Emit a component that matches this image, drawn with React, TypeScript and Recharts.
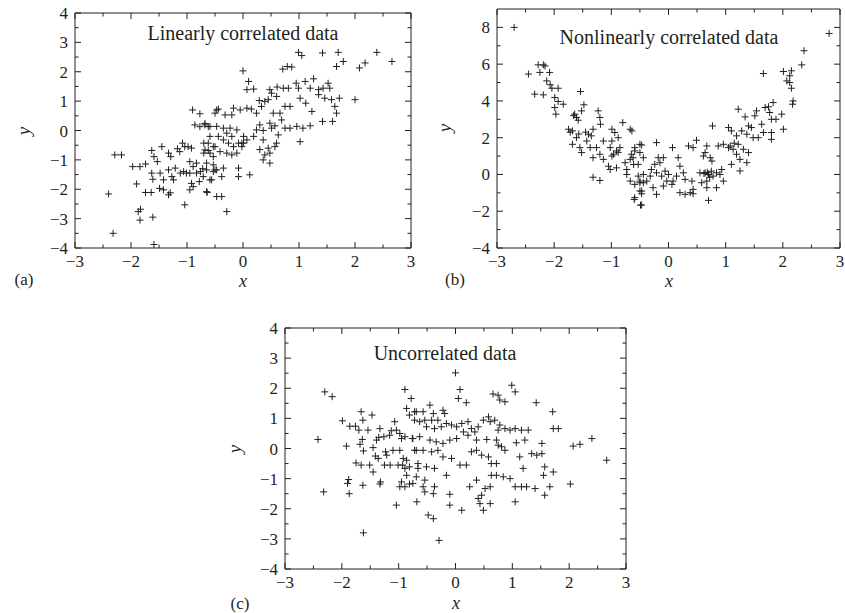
import { ScatterChart, Scatter, XAxis, YAxis, ReferenceArea } from "recharts";

// (a) linearly correlated
const linearX = [
  -2.29, -2.17, -2.4, -2.32, -1.59, -1.97, -1.84, -1.74, -1.9, -1.74, -1.64, -1.87, -1.83, -1.84, -1.61,
  -1.63, -1.45, -1.59, -1.53, -1.63, -1.61, -1.48, -1.42, -1.33, -1.27, -1.24, -1.49, -1.42, -1.33, -1.3,
  -1.33, -1.29, -1.21, -1.13, -1.08, -1.04, -0.98, -0.92, -1.04, -1.01, -0.95, -0.95, -0.92, -0.89, -0.83,
  -0.83, -0.95, -0.89, -0.78, -0.71, -0.64, -0.9, -0.77, -0.47, -0.86, -0.77, -0.68, -0.62, -0.7, -0.59,
  -0.7, -0.62, -0.53, -0.65, -0.53, -0.59, -0.47, -1.12, -1.06, -0.76, -0.72, -1.17,
  0.99, 1.05, 1.42, 1.7, 2.39, 2.66, 1.67, 1.79, 2.08, 2.18, 0.71, 0.79, 0.87, 0.0, 0.1, 0.07, 0.19,
  0.48, 0.61, 0.72, 0.81, 0.95, 0.99, 1.11, 1.26, 1.2, 1.35, 1.43, 1.52, 1.55,
  0.51, 0.6, 0.75, 0.84, 1.02, 1.12, 1.23, 1.35, 1.46, 1.58, 1.72, 2.0, 1.67, 1.64,
  1.6, 1.42, 1.2, 1.07, 0.96, 1.02, 0.84, 0.75,
  0.29, 0.39, 0.45, 0.33, 0.24, 0.15, 0.07, -0.05, -0.17, -0.2, -0.44, -0.32, -0.5,
  0.54, 0.66, 0.48, 0.57, 0.69, 0.3, 0.24, 0.36, 0.51, 0.63, 0.6, 0.57, 0.45, 0.48, 0.39, 0.36, 0.48, 0.3, 0.36,
  0.19, 0.07, -0.02, 0.01, -0.11, -0.23, -0.35, -0.47, -0.59, -0.68,
  -0.29, -0.2, -0.35, -0.44, -0.26, -0.17, -0.11, -0.2, -0.29, -0.41, -0.5, -0.62, -0.68, -0.53, -0.59,
  -0.08, -0.02, 0.01,
  -0.53, -0.5, -0.65, -0.35, -0.56, -0.38, -0.08, -0.08, 0.12, -0.65, -0.47, -0.38, -0.29,
];
const linearY = [
  -0.83, -0.83, -2.16, -3.5, -3.88, -1.23, -1.23, -1.14, -1.82, -2.11, -2.11, -2.76, -2.68, -3.05, -2.95,
  -0.68, -0.55, -0.89, -1.06, -1.45, -1.66, -1.45, -1.68, -1.34, -1.57, -1.68, -1.97, -2.02, -2.19, -2.12,
  -0.77, -0.89, -1.28, -0.72, -0.43, -0.55, -0.55, -0.6, -2.53, -1.45, -1.06, -1.45, -1.8, -1.23, -1.11,
  -1.45, -2.02, -1.91, -1.74, -1.57, -2.11, 0.7, 0.57, 0.7, 0.19, 0.13, 0.24, 0.13, -0.43, -0.2,
  -0.77, -0.68, -0.55, -1.11, -1.4, -1.68, -1.34, -1.45, -1.4, -1.4, -1.3, -0.62,
  2.66, 2.55, 2.64, 2.66, 2.66, 2.35, 2.18, 2.35, 2.13, 2.3, 2.09, 2.18, 2.16, 2.03, 1.67, 1.39, 1.41,
  1.39, 1.48, 1.44, 1.44, 1.61, 1.44, 1.67, 1.76, 1.44, 1.39, 1.44, 1.61, 1.44,
  1.27, 1.16, 0.82, 0.82, 1.1, 0.93, 0.65, 1.22, 1.1, 1.05, 1.1, 1.05, 0.59, 0.82,
  0.31, 0.31, 0.16, 0.08, 0.14, -0.38, 0.08, 0.08,
  1.02, 0.99, 1.05, 0.82, 0.59, 0.73, 0.76, 0.7, 0.76, 0.53, 0.73, 0.53, 0.59,
  0.59, 0.59, 0.25, 0.16, 0.36, 0.19, 0.02, 0.0, 0.08, -0.15, -0.43, -0.55, -0.6, -0.77, -0.83, -1.0, -1.11, -0.65, -0.32,
  -0.2, -0.32, -0.43, -0.2, 0.02, 0.08, 0.08, 0.14, 0.14, 0.19,
  -0.09, -0.2, -0.32, -0.2, -0.43, -0.55, -0.77, -0.83, -0.77, -0.72, -0.55, -0.43, -0.66, -0.89, -0.77,
  -0.43, -0.55, -0.43,
  -1.17, -1.34, -1.34, -1.28, -1.68, -1.57, -1.28, -1.57, -1.51, -2.08, -2.25, -2.25, -2.76,
];

// (b) nonlinearly correlated
const nonlinX = [
  -2.7, -2.45, -2.28, -2.19, -2.16, -2.25, -2.08, -2.13, -2.07, -2.04, -1.93,
  -2.34, -2.19, -1.99, -1.93, -1.99, -1.84, -1.97, -1.54, -1.48, -1.52, -1.64, -1.61, -1.58,
  -1.23, -1.2, -1.19, -0.8, -0.67, -0.5,
  -1.75, -1.68, -1.61, -1.68, -1.55, -1.43, -1.4, -1.32, -1.37, -1.26, -1.14,
  -1.52, -1.32, -1.2, -1.14, -1.02, -0.99, -0.99, -0.94, -0.88, -0.99, -0.91, -0.85,
  -1.05, -1.02, -0.91, -0.76, -0.73, -0.67, -0.65, -0.59, -0.61,
  -0.73, -0.67, -0.59, -0.5, -0.44, -0.53, -1.32, -1.2, -0.6, -0.49, -0.5, -0.47,
  -1.72, -1.45, -1.35, -1.57, -1.66, -0.96, -0.88,
  2.81, 2.37, 2.33, 2.01, 2.15, 1.66, 2.12, 2.07, 2.15, 2.12, 2.18, 2.17,
  1.69, 1.75, 1.83, 1.77, 1.88, 1.8, 2.01, 1.98,
  1.22, 1.34, 1.51, 1.54, 1.45, 1.63, 1.66, 1.8, 1.8,
  0.77, 1.05, 1.1, 1.19, 1.28, 1.37, 1.4, 1.48, 1.57,
  0.96, 0.87, 1.05, 1.13, 1.22, 1.31, 1.4, 1.19, 1.25, 1.1, 1.25, 1.37,
  0.49, 0.67, 0.64, 0.73, 0.76, 0.61, 0.35, 0.07, 0.43,
  -0.21, -0.47, -0.59, -0.5, -0.44, -0.53, -0.64, -0.62,
  -0.18, -0.09, -0.15, -0.24, -0.3, -0.21, -0.06, 0.0, -0.12, -0.03, -0.09,
  0.17, 0.2, 0.26, 0.29, 0.14, 0.08, 0.06,
  0.41, 0.43, 0.38, 0.43, 0.2, 0.29, 0.7,
  0.55, 0.64, 0.7, 0.75, 0.84, 0.9, 0.93, 0.96, 0.78, 0.67, 0.84, 0.67, 0.58,
  -0.44, -0.32, -0.5, -0.38, -0.27, -0.47, -0.59, -0.47, -0.21,
  0.62, 0.68, 0.72, 1.08, 1.15,
];
const nonlinY = [
  8.0, 5.46, 5.96, 5.96, 5.9, 5.55, 5.55, 5.09, 4.88, 4.69, 4.69,
  4.37, 4.33, 4.19, 3.97, 3.64, 3.82, 3.28, 4.51, 3.79, 3.46, 3.28, 3.1, 2.95,
  3.46, 3.1, 2.73, 2.82, 2.46, 1.64,
  2.46, 2.37, 2.0, 1.64, 1.46, 1.82, 2.19, 2.46, 1.46, 1.46, 1.82,
  1.19, 0.91, 1.1, 0.82, 1.46, 1.82, 2.46, 2.28, 2.0, 1.0, 1.28, 1.46,
  0.45, 0.27, 0.36, 0.64, 0.27, 0.82, 1.1, 1.28, 0.54,
  0.0, -0.36, -0.54, -0.36, -0.45, -0.09, -0.15, -0.33, -1.36, -1.67, -0.9, -1.05,
  2.3, 2.3, 2.1, 2.2, 3.2, 1.1, 1.2,
  7.67, 6.73, 5.96, 5.6, 5.64, 5.49, 5.37, 5.09, 4.69, 5.0, 4.0, 3.82,
  3.64, 3.68, 3.91, 3.37, 3.0, 3.0, 2.46, 3.28,
  3.55, 3.13, 3.19, 3.46, 2.55, 2.73, 2.28, 2.28, 1.91,
  2.64, 2.55, 2.37, 2.1, 2.37, 2.19, 2.64, 2.0, 2.0,
  1.64, 1.55, 1.46, 1.37, 1.64, 1.37, 1.19, 1.1, 0.82, 0.55, 0.19, 0.64,
  1.86, 1.55, 1.19, 0.91, 0.73, 1.0, 1.55, 1.46, 1.46,
  1.73, 1.6, 1.46, 1.19, 0.91, 0.55, 2.37, 0.91,
  0.91, 0.91, 0.64, 0.55, 0.27, 0.09, 0.18, 0.0, -0.09, -0.36, -0.63,
  0.91, 0.45, 0.09, -0.27, -0.09, -0.36, -0.54,
  -0.36, -0.81, -0.99, -1.05, -0.99, -1.08, -1.41,
  0.09, 0.09, 0.0, 0.18, 0.09, 0.0, 0.27, -0.36, -0.09, -0.36, -0.72, -0.72, -0.45,
  0.0, -0.09, -0.45, -0.36, -0.72, -0.9, -1.26, -1.66, -1.08,
  0.05, 0.12, -0.15, 1.55, 1.7,
];

// (c) uncorrelated
const uncorrX = [
  -2.42, -2.32, -2.3, -2.17, -1.99, -1.86, -1.76, -1.66, -1.63, -1.47, -1.7, -1.54,
  -1.92, -1.68, -1.64, -1.62, -1.45, -1.39, -1.35, -1.33, -1.26, -1.23, -1.41, -1.36,
  -1.75, -1.66, -1.51, -1.45, -1.25, -1.15, -1.21, -1.88, -1.9, -1.87, -1.63, -1.32, -1.33, -1.62,
  -1.13, -1.07, -1.04, -0.98, -1.16, -0.95, -0.89,
  -1.1, -0.98, -0.92, -0.86, -1.01, -0.93, -0.89, -0.81, -0.86, -0.95, -0.98, -0.89, -0.81, -0.75,
  -1.04, -0.68, -0.89, -0.78, -0.86, -0.81, -0.69, -0.72, -0.76, -0.69, -0.66, -0.69,
  0.0, 0.08, 0.05, 0.19, 0.99, 1.05, 0.66, 0.75, 0.78, 0.87, 1.42, 1.71,
  -0.72, -0.57, -0.45, -0.39, -0.22, -0.19, -0.31, -0.42, -0.54, -0.63, -0.51, -0.37, -0.25, -0.16, -0.07,
  0.02, 0.11, 0.22, 0.28, 0.34, 0.4, 0.49, 0.58, 0.61, 0.69, 0.78, 0.87, 0.96, 1.05, 1.16, 1.28, 0.75, 0.14, 0.22,
  -0.75, -0.63, -0.45, -0.34, -0.22, -0.1, 0.02, 0.37, 0.55, 0.72, 0.75, 0.81, 1.07, 1.22, 1.52, 1.72, 1.81,
  2.07, 2.19, 2.4, 2.66,
  -0.72, -0.57, -0.42, -0.31, -0.22, -0.07, 0.08, 0.19, 0.28, 0.37, 0.46, 0.58, 0.63, 0.72, 0.87, 1.13,
  1.34, 1.43, 1.52, 1.19, 1.57, 1.72, 1.55,
  -0.66, -0.51, -0.37, -0.16, -0.54, -0.57, -0.37, -0.39, -0.54, -0.1, -0.1, 0.11, 0.25, 0.37, 0.46, 0.4,
  0.43, 0.49, 0.61, 0.52, 0.61, 0.63, 0.72, 0.84, 0.96, 1.05, 1.16, 1.25, 1.4, 1.57, 1.66, 2.02, 1.05,
  -0.48, -0.39, -0.29,
];
const uncorrY = [
  0.3, -1.44, 1.88, 1.72, 0.92, 0.74, 0.74, 1.22, 0.94, 1.11, 0.61, 0.61,
  0.08, 0.14, 0.3, -0.08, 0.03, 0.28, 0.37, 0.66, 0.39, -0.11, -0.25, -0.33,
  -0.48, -0.55, -0.55, -0.78, -0.55, -0.55, -0.22, -1.03, -1.16, -1.5, -1.22, -1.11, -1.18, -2.8,
  0.59, 0.89, 0.61, 0.5, 0.44, 0.33, 0.39,
  -0.06, -0.06, -0.33, -0.39, -0.55, -0.55, -0.66, -0.61, -0.89, -1.11, -1.27, -1.27, -1.18, -1.16,
  -1.88, -1.77, 1.96, 1.66, 1.33, 1.11, 1.22, 0.94, 0.33, -0.06, -0.5, -0.94,
  2.51, 1.96, 1.66, 1.52, 2.1, 1.88, 1.81, 1.77, 1.61, 1.55, 1.52, 1.22,
  1.22, 1.22, 1.44, 1.16, 1.27, 1.16, 0.94, 0.94, 0.94, 0.89, 0.72, 0.66, 0.72, 0.83, 0.78,
  0.72, 0.83, 0.89, 0.66, 0.55, 0.72, 0.94, 1.05, 0.89, 0.94, 0.78, 0.66, 0.61, 0.66, 0.61, 0.61, 0.61, 0.55, 0.44,
  0.33, 0.39, 0.28, 0.22, 0.17, 0.28, 0.33, 0.28, 0.3, 0.28, 0.11, 0.06, 0.19, 0.28, 0.17, 0.66, 0.66,
  0.08, 0.14, 0.33, -0.39,
  -0.06, -0.06, -0.11, -0.06, -0.28, -0.33, -0.55, -0.55, -0.11, -0.06, -0.22, -0.28, -0.5, -0.5, -0.06, -0.28,
  -0.17, -0.22, -0.17, -0.66, -0.61, -0.78, -0.89,
  -0.66, -0.61, -0.66, -0.89, -1.05, -1.27, -1.27, -1.5, -1.44, -1.52, -1.88, -2.05, -1.27, -1.05, -1.55, -1.66,
  -1.83, -2.05, -1.83, -1.33, -1.27, -0.89, -0.89, -0.94, -1.0, -1.27, -1.27, -1.27, -1.33, -1.55, -1.27, -1.18, -1.77,
  -2.21, -2.33, -3.05,
];

const xTicks = [-3, -2.5, -2, -1.5, -1, -0.5, 0, 0.5, 1, 1.5, 2, 2.5, 3];
const yTicksAC = [-4, -3.5, -3, -2.5, -2, -1.5, -1, -0.5, 0, 0.5, 1, 1.5, 2, 2.5, 3, 3.5, 4];
const yTicksB = [-4, -3, -2, -1, 0, 1, 2, 3, 4, 5, 6, 7, 8];

const FONT = "'Liberation Serif', 'Times New Roman', serif";
const INK = "#231f20";

const toPoints = (xs: number[], ys: number[]) => xs.map((x, i) => ({ x, y: ys[i] }));
const fmt = (v: number) => (v < 0 ? "\u2212" + Math.abs(v) : String(v));
const isMajor = (v: number, step: number) => Math.abs(v / step - Math.round(v / step)) < 1e-6;

function Plus(props: any) {
  const { cx, cy } = props;
  if (cx == null || cy == null) return null;
  const h = 3.5;
  return (
    <path
      d={`M${cx - h},${cy}H${cx + h}M${cx},${cy - h}V${cy + h}`}
      stroke={INK}
      strokeWidth={1}
      fill="none"
    />
  );
}

// bottom ticks point inward, mirrored on the top edge
const xTick = (plotH: number) => (props: any) => {
  const { x, y, payload } = props;
  const major = isMajor(payload.value, 1);
  const len = major ? 6 : 3.5;
  return (
    <g>
      <line x1={x} x2={x} y1={y} y2={y - len} stroke={INK} />
      <line x1={x} x2={x} y1={y - plotH} y2={y - plotH + len} stroke={INK} />
      {major && (
        <text x={x} y={y + 19} textAnchor="middle" fontSize={17} fontFamily={FONT} fill={INK}>
          {fmt(payload.value)}
        </text>
      )}
    </g>
  );
};

const yTick = (plotW: number, step: number) => (props: any) => {
  const { x, y, payload } = props;
  const major = isMajor(payload.value, step);
  const len = major ? 6 : 3.5;
  return (
    <g>
      <line x1={x} x2={x + len} y1={y} y2={y} stroke={INK} />
      <line x1={x + plotW} x2={x + plotW - len} y1={y} y2={y} stroke={INK} />
      {major && (
        <text x={x - 7} y={y + 6} textAnchor="end" fontSize={17} fontFamily={FONT} fill={INK}>
          {fmt(payload.value)}
        </text>
      )}
    </g>
  );
};

interface PanelProps {
  left: number;
  top: number;
  width: number;
  height: number;
  margin: { top: number; right: number; bottom: number; left: number };
  data: { x: number; y: number }[];
  yDomain: [number, number];
  yTicks: number[];
  yStep: number;
}

// axes are 1px thick so recharts still draws them; the plot box is what margin leaves
function Panel({ left, top, width, height, margin, data, yDomain, yTicks, yStep }: PanelProps) {
  const plotW = width - margin.left - margin.right;
  const plotH = height - margin.top - margin.bottom;
  const m = { ...margin, left: margin.left - 1, bottom: margin.bottom - 1 };
  return (
    <div style={{ position: "absolute", left, top }}>
      <ScatterChart width={width} height={height} margin={m}>
        <XAxis
          type="number"
          dataKey="x"
          domain={[-3, 3]}
          ticks={xTicks}
          interval={0}
          height={1}
          tickSize={0}
          tickMargin={0}
          axisLine={false}
          tickLine={false}
          tick={xTick(plotH)}
          allowDataOverflow
        />
        <YAxis
          type="number"
          dataKey="y"
          domain={yDomain}
          ticks={yTicks}
          interval={0}
          width={1}
          tickSize={0}
          tickMargin={0}
          axisLine={false}
          tickLine={false}
          tick={yTick(plotW, yStep)}
          allowDataOverflow
        />
        <ReferenceArea
          x1={-3}
          x2={3}
          y1={yDomain[0]}
          y2={yDomain[1]}
          fill="none"
          stroke={INK}
          strokeWidth={1}
          ifOverflow="visible"
        />
        <Scatter data={data} shape={Plus} isAnimationActive={false} />
      </ScatterChart>
    </div>
  );
}

function Label({ x, y, text, size = 20, italic = false, rotate = false }: any) {
  return (
    <div
      style={{
        position: "absolute",
        left: x,
        top: y,
        transform: `translate(-50%, -50%)${rotate ? " rotate(-90deg)" : ""}`,
        fontFamily: FONT,
        fontSize: size,
        fontStyle: italic ? "italic" : "normal",
        color: INK,
        whiteSpace: "nowrap",
        lineHeight: 1,
      }}
    >
      {text}
    </div>
  );
}

export default function App() {
  return (
    <div style={{ position: "absolute", left: 0, top: 0, width: 845, height: 613, background: "#fff" }}>
      <Panel
        left={0}
        top={0}
        width={420}
        height={290}
        margin={{ top: 13, right: 9, bottom: 42, left: 75 }}
        data={toPoints(linearX, linearY)}
        yDomain={[-4, 4]}
        yTicks={yTicksAC}
        yStep={1}
      />
      <Panel
        left={430}
        top={0}
        width={415}
        height={290}
        margin={{ top: 9, right: 5, bottom: 42, left: 67 }}
        data={toPoints(nonlinX, nonlinY)}
        yDomain={[-4, 9]}
        yTicks={yTicksB}
        yStep={2}
      />
      <Panel
        left={220}
        top={310}
        width={420}
        height={303}
        margin={{ top: 18, right: 14, bottom: 44, left: 65 }}
        data={toPoints(uncorrX, uncorrY)}
        yDomain={[-4, 4]}
        yTicks={yTicksAC}
        yStep={1}
      />

      <Label x={243} y={33} text="Linearly correlated data" />
      <Label x={669} y={37} text="Nonlinearly correlated data" />
      <Label x={445} y={353} text="Uncorrelated data" />

      <Label x={243} y={281} text="x" size={18} italic />
      <Label x={669} y={281} text="x" size={18} italic />
      <Label x={456} y={603} text="x" size={18} italic />

      <Label x={23} y={131} text="y" size={19} italic rotate />
      <Label x={444} y={128} text="y" size={19} italic rotate />
      <Label x={234} y={449} text="y" size={19} italic rotate />

      <Label x={24} y={279} text="(a)" size={17} />
      <Label x={455} y={279} text="(b)" size={17} />
      <Label x={240} y={603} text="(c)" size={17} />
    </div>
  );
}
